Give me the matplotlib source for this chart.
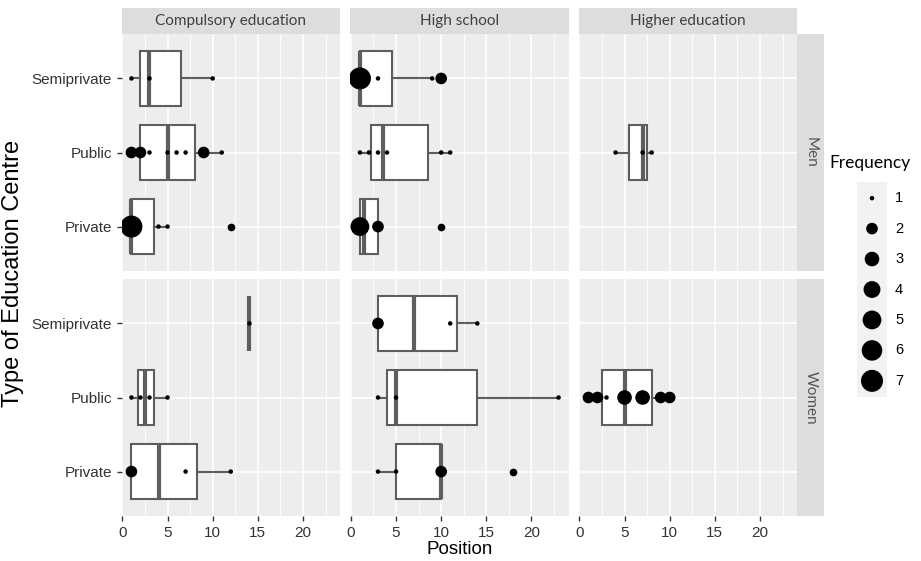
import matplotlib.pyplot as plt
import numpy as np

plt.rcParams["font.family"] = ["Liberation Sans", "DejaVu Sans"]

sexes = ["Men", "Women"]
levels = ["Compulsory education", "High school", "Higher education"]
centres = ["Private", "Public", "Semiprivate"]

# one entry per box plot: (sex, level, centre)
groups = [
    ("Men", "Compulsory education", "Semiprivate"),
    ("Men", "Compulsory education", "Public"),
    ("Men", "Compulsory education", "Private"),
    ("Men", "High school", "Semiprivate"),
    ("Men", "High school", "Public"),
    ("Men", "High school", "Private"),
    ("Men", "Higher education", "Public"),
    ("Women", "Compulsory education", "Semiprivate"),
    ("Women", "Compulsory education", "Public"),
    ("Women", "Compulsory education", "Private"),
    ("Women", "High school", "Semiprivate"),
    ("Women", "High school", "Public"),
    ("Women", "High school", "Private"),
    ("Women", "Higher education", "Public"),
]

# observed positions and how often each one occurs
positions = [
    [1, 3, 10],
    [1, 2, 3, 5, 6, 7, 9, 11],
    [1, 4, 5, 12],
    [1, 3, 9, 10],
    [1, 2, 3, 4, 10, 11],
    [1, 3, 10],
    [4, 7, 8],
    [14],
    [1, 2, 3, 5],
    [1, 7, 12],
    [3, 11, 14],
    [3, 5, 23],
    [3, 5, 10, 18],
    [1, 2, 3, 5, 7, 9, 10],
]
frequency = [
    [1, 1, 1],
    [2, 2, 1, 1, 1, 1, 2, 1],
    [7, 1, 1, 1],
    [7, 1, 1, 2],
    [1, 1, 1, 1, 1, 1],
    [5, 2, 1],
    [1, 1, 1],
    [1],
    [1, 1, 1, 1],
    [2, 1, 1],
    [2, 1, 1],
    [1, 1, 1],
    [1, 1, 2, 1],
    [2, 2, 1, 3, 3, 2, 2],
]

# box plot statistics
whisk_lo = [1, 1, 1, 1, 1, 1, 4, 14, 1, 1, 3, 3, 3, 1]
quart_1 = [2, 2, 1, 1, 2.25, 1, 5.5, 14, 1.75, 1, 3, 4, 5, 2.5]
median = [3, 5, 1, 1, 3.5, 1.5, 7, 14, 2.5, 4, 7, 5, 10, 5]
quart_3 = [6.5, 8, 3.5, 4.5, 8.5, 3, 7.5, 14, 3.5, 8.25, 11.75, 14, 10, 8]
whisk_hi = [10, 11, 5, 9, 11, 3, 8, 14, 5, 12, 14, 23, 10, 10]
outliers = [[], [], [12], [10], [], [10], [], [], [], [], [], [], [18], []]

legend_freq = [1, 2, 3, 4, 5, 6, 7]

W, H = 921, 561
DPI = 100


def pt_size(f):
    f = np.asarray(f, dtype=float)
    size = 1 + 5 * np.sqrt((f - 1) / 6)
    d_px = 3.5 * size + 1
    return (d_px * 72 / DPI) ** 2


def px_axes(fig, x0, y0, x1, y1):
    return fig.add_axes([x0 / W, 1 - y1 / H, (x1 - x0) / W, (y1 - y0) / H])


fig = plt.figure(figsize=(W / DPI, H / DPI), dpi=DPI)

panel_bg = "#EDEDED"
strip_bg = "#DDDDDD"
box_col = "#5e5e5e"
text_col = "#333333"
strip_font = ["Lato", "DejaVu Sans"]

col_x = [(121.5, 340), (350, 568.5), (578.5, 797)]
row_y = [(34, 271), (279, 516)]

for r, sex in enumerate(sexes):
    for c, level in enumerate(levels):
        x0, x1 = col_x[c]
        y0, y1 = row_y[r]
        ax = px_axes(fig, x0, y0, x1, y1)
        ax.set_facecolor(panel_bg)
        for s in ax.spines.values():
            s.set_visible(False)

        for i, g in enumerate(groups):
            if g[0] != sex or g[1] != level:
                continue
            y = centres.index(g[2]) + 1
            stats = [dict(whislo=whisk_lo[i], q1=quart_1[i], med=median[i],
                          q3=quart_3[i], whishi=whisk_hi[i], fliers=outliers[i])]
            ax.bxp(stats, positions=[y], widths=0.75, orientation="horizontal",
                   showcaps=False, patch_artist=True, manage_ticks=False,
                   boxprops=dict(facecolor="white", edgecolor=box_col, linewidth=1.5),
                   whiskerprops=dict(color=box_col, linewidth=1.5),
                   medianprops=dict(color=box_col, linewidth=3),
                   flierprops=dict(marker="o", markerfacecolor="black",
                                   markeredgecolor="black", markersize=4.5))
            ax.scatter(positions[i], [y] * len(positions[i]), s=pt_size(frequency[i]),
                       color="black", linewidths=0, zorder=5)

        ax.set_xlim(-0.1, 24.1)
        ax.set_ylim(0.4, 3.6)
        ax.set_xticks([0, 5, 10, 15, 20])
        ax.set_xticks(np.arange(2.5, 24, 5), minor=True)
        ax.set_yticks([1, 2, 3])
        ax.set_yticklabels(centres)
        ax.grid(which="major", color="white", linewidth=1.2)
        ax.grid(which="minor", axis="x", color="white", linewidth=0.6)
        ax.set_axisbelow(True)
        ax.tick_params(which="minor", length=0)
        ax.tick_params(which="major", length=3.5, width=1, color=text_col,
                       labelcolor=text_col, labelsize=11)
        if r == 0:
            ax.tick_params(axis="x", length=0, labelbottom=False)
        if c > 0:
            ax.tick_params(axis="y", length=0, labelleft=False)

        # top strips
        if r == 0:
            sax = px_axes(fig, x0, 8, x1, 34)
            sax.set_facecolor(strip_bg)
            sax.set_xticks([])
            sax.set_yticks([])
            for s in sax.spines.values():
                s.set_visible(False)
            sax.text(0.5, 0.5, level, ha="center", va="center", fontsize=11,
                     color="#404040", family=strip_font)

    # right strips
    y0, y1 = row_y[r]
    sax = px_axes(fig, 797, y0, 824, y1)
    sax.set_facecolor(strip_bg)
    sax.set_xticks([])
    sax.set_yticks([])
    for s in sax.spines.values():
        s.set_visible(False)
    sax.text(0.5, 0.5, sex, ha="center", va="center", rotation=-90, fontsize=11,
             color="#555555", family=strip_font)

fig.text(459.5 / W, 1 - 550 / H, "Position", ha="center", va="center",
         fontsize=13.5, color="black")
fig.text(13 / W, 1 - 273 / H, "Type of Education Centre", ha="center", va="center",
         rotation=90, fontsize=17, color="black")

# legend
fig.text(829 / W, 1 - 163 / H, "Frequency", ha="left", va="center", fontsize=12.5,
         color="black", family=strip_font)
lax = px_axes(fig, 857, 182, 887, 397)
lax.set_facecolor("#F2F2F2")
for s in lax.spines.values():
    s.set_visible(False)
lax.set_xticks([])
lax.set_yticks([])
lax.set_xlim(0, 1)
lax.set_ylim(7.03, -0.03)
ky = np.arange(len(legend_freq)) + 0.5
lax.scatter([0.5] * len(legend_freq), ky, s=pt_size(legend_freq), color="black",
            linewidths=0, clip_on=False)
for f, yy in zip(legend_freq, ky):
    lax.text(1.27, yy, str(f), ha="left", va="center", fontsize=10.5,
             color="black")

fig.savefig("out.png", dpi=DPI)
